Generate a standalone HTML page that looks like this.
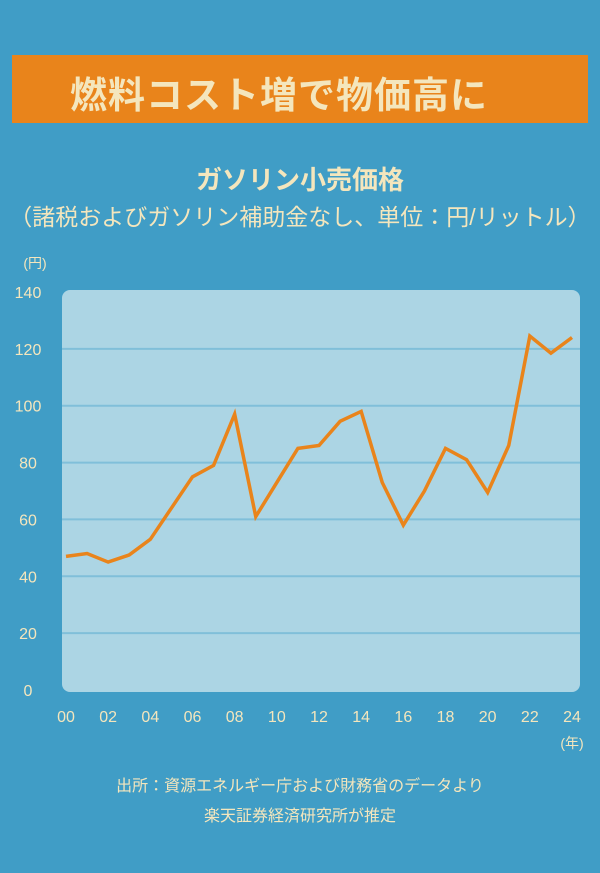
<!DOCTYPE html>
<html><head><meta charset="utf-8"><style>
html,body{margin:0;padding:0;}
body{width:600px;height:873px;background:#409dc6;position:relative;overflow:hidden;font-family:"Liberation Sans","Noto Sans CJK JP",sans-serif;color:#f4e6bd;}
.banner{position:absolute;left:12px;top:55px;width:576px;height:68px;background:#e9841b;}
.banner span{position:absolute;left:58px;top:10px;font-size:37px;font-weight:bold;letter-spacing:1px;color:#f4e6bd;}
.t1{position:absolute;left:0;width:600px;top:160px;text-align:center;font-size:26px;font-weight:bold;}
.t2{position:absolute;left:0;width:600px;top:198px;text-align:center;font-size:23px;}
.src{position:absolute;left:0;width:600px;text-align:center;font-size:16px;}
</style></head><body>
<div class="banner"><span>燃料コスト増で物価高に</span></div>
<div class="t1">ガソリン小売価格</div>
<div class="t2">（諸税およびガソリン補助金なし、単位：円/リットル）</div>
<svg id="chart" width="600" height="873" style="position:absolute;left:0;top:0"></svg>
<div class="src" style="top:772px">出所：資源エネルギー庁および財務省のデータより</div>
<div class="src" style="top:802px">楽天証券経済研究所が推定</div>
<script>
const years=[0,1,2,3,4,5,6,7,8,9,10,11,12,13,14,15,16,17,18,19,20,21,22,23,24];
const prices=[47,48,45,47.5,53,64,75,79,97,61,73,85,86,94.5,98,73,58,70,85,81,69.5,86,124.5,118.5,124];
const yTicks=[0,20,40,60,80,100,120,140];
const xTicks=["00","02","04","06","08","10","12","14","16","18","20","22","24"];
const NS="http://www.w3.org/2000/svg";
const svg=document.getElementById('chart');
const x0=66,x1=572,yb=690,yt=292;
const X=v=>x0+(v-0)/(24-0)*(x1-x0);
const Y=v=>yb-(v/140)*(yb-yt);
function mk(t,a){const e=document.createElementNS(NS,t);for(const k in a)e.setAttribute(k,a[k]);svg.appendChild(e);return e;}
const bg=mk('rect',{x:62,y:290,width:518,height:402,rx:8,fill:'#acd5e4'});


yTicks.forEach(v=>{
 if(v>0&&v<140){const l=mk('line',{x1:62,x2:580,y1:Y(v),y2:Y(v),stroke:'#80bfd9','stroke-width':2});
 
 }
 const t=mk('text',{x:28,y:Y(v)+6,'text-anchor':'middle','font-size':16,fill:'#f4e6bd','font-family':'Liberation Sans, sans-serif'});
 t.textContent=v;
 
 
});
xTicks.forEach((s,i)=>{
 const t=mk('text',{x:X(i*2),y:722,'text-anchor':'middle','font-size':16,fill:'#f4e6bd','font-family':'Liberation Sans, sans-serif'});
 t.textContent=s;
 
 
});
const yu=mk('text',{x:35,y:268,'text-anchor':'middle','font-size':14,fill:'#f4e6bd'});yu.textContent='(円)';


const xu=mk('text',{x:572,y:748,'text-anchor':'middle','font-size':14,fill:'#f4e6bd'});xu.textContent='(年)';


const pts=years.map((y,i)=>X(y)+','+Y(prices[i])).join(' ');
const pl=mk('polyline',{points:pts,fill:'none',stroke:'#e9841b','stroke-width':3.5,'stroke-linejoin':'miter'});


</script>
</body></html>
